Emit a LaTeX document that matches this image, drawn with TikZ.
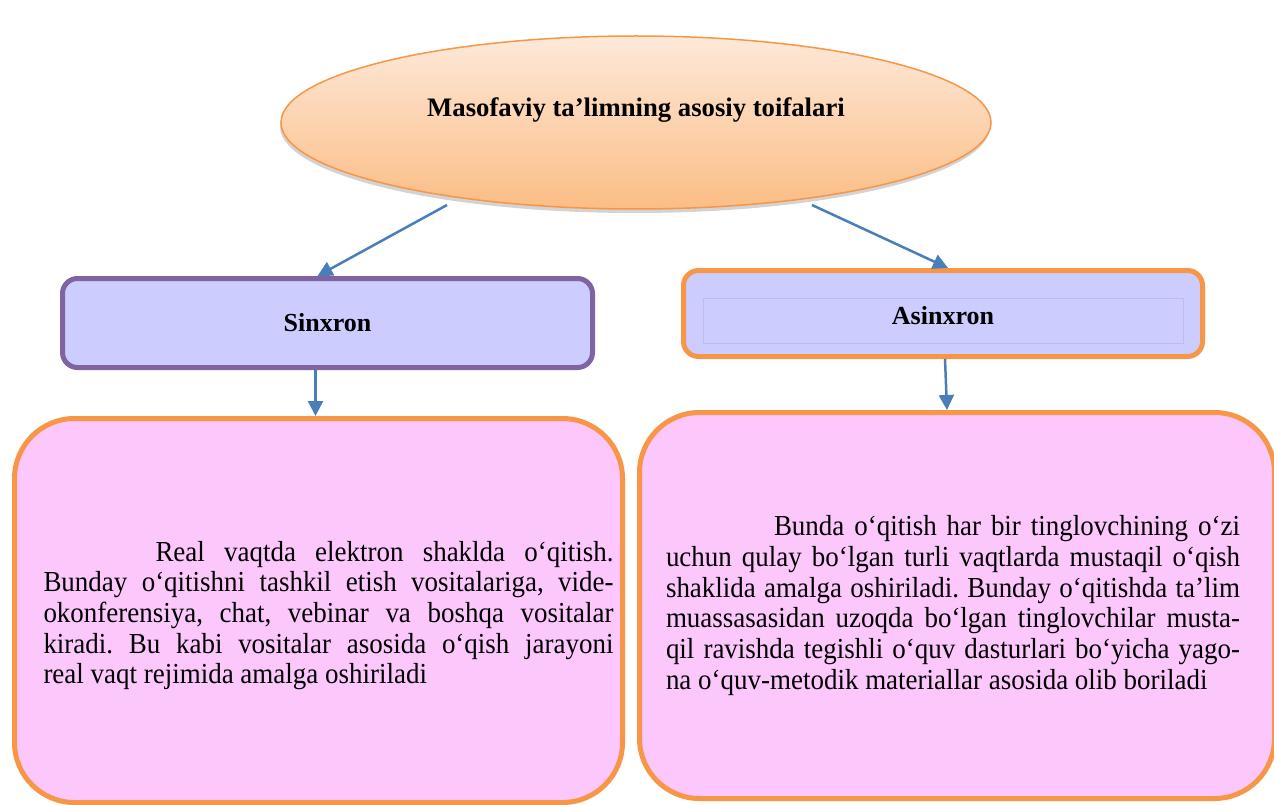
\documentclass[tikz,border=0pt]{standalone}
\usepackage{fontspec}
\setmainfont{Liberation Serif}
\newfontfamily\bodyfont{Liberation Serif}[FakeStretch=0.93]
\usepackage{tikz}
\usetikzlibrary{shapes.geometric, arrows.meta, shadows}

\definecolor{arrowblue}{HTML}{4A7EBB}
\definecolor{boxorange}{HTML}{F79646}
\definecolor{boxpurple}{HTML}{8064A2}
\definecolor{lavender}{HTML}{CCCCFF}
\definecolor{pinkfill}{HTML}{FCC8FC}
\definecolor{peachtop}{HTML}{FDE9D9}
\definecolor{peachbottom}{HTML}{FBBD85}

\tikzset{
  arr/.style={-{Triangle[length=15pt,width=15pt]}, draw=arrowblue, line width=2.5pt},
  catbox/.style={rectangle, rounded corners=15pt, fill=lavender, line width=5pt,
    minimum width=530pt, minimum height=89pt, font=\fontsize{26}{30}\selectfont\bfseries},
  textbox/.style={rectangle, rounded corners=60pt, draw=boxorange, fill=pinkfill,
    line width=5pt, inner sep=0pt,
    font=\bodyfont\fontsize{29}{30.7}\selectfont\frenchspacing},
}

\begin{document}
\begin{tikzpicture}[x=1pt, y=-1pt]
  \useasboundingbox (0,0) rectangle (1274,805);
  \clip (0,0) rectangle (1274,805);

  % main category
  \node[ellipse, draw=boxorange, line width=1.5pt, top color=peachtop, bottom color=peachbottom,
    drop shadow={shadow xshift=-1pt, shadow yshift=-4pt, opacity=0.35},
    minimum width=710pt, minimum height=173pt, inner sep=0pt,
    font=\fontsize{26.7}{30}\selectfont\bfseries] (title) at (636,122.5)
    {\raisebox{6pt}[0pt][0pt]{Masofaviy ta’limning asosiy toifalari}};

  % the two kinds
  \node[catbox, draw=boxpurple] (sinxron) at (327.5,323) {Sinxron};
  \node[catbox, draw=boxorange, minimum width=519pt, minimum height=86pt] (asinxron) at (943,313.5) {};
  \node[draw=lavender!80!gray, line width=0.6pt, minimum width=480pt, minimum height=45pt,
    font=\fontsize{26}{30}\selectfont\bfseries] (asinxronlabel) at (943,320.5)
    {\raisebox{-4pt}[0pt][0pt]{Asinxron}};

  % descriptions
  \node[textbox, minimum width=608pt, minimum height=384pt] (sinxrontext) at (318.5,610.5)
    {\hspace*{20pt}\raisebox{-5pt}[\height][\depth]{\parbox{570pt}{%
     \hspace*{112pt}Real vaqtda elektron shaklda o‘qitish.\linebreak
     Bunday o‘qitishni tashkil etish vositalariga, vide-\linebreak
     okonferensiya, chat, vebinar va boshqa vositalar\linebreak
     kiradi. Bu kabi vositalar asosida o‘qish jarayoni\linebreak
     real vaqt rejimida amalga oshiriladi}}};
  \node[textbox, minimum width=635pt, minimum height=386pt] (asinxrontext) at (957,605.5)
    {\parbox{574pt}{%
     \hspace*{108pt}Bunda o‘qitish har bir tinglovchining o‘zi\linebreak
     uchun qulay bo‘lgan turli vaqtlarda mustaqil o‘qish\linebreak
     shaklida amalga oshiriladi. Bunday o‘qitishda ta’lim\linebreak
     muassasasidan uzoqda bo‘lgan tinglovchilar musta-\linebreak
     qil ravishda tegishli o‘quv dasturlari bo‘yicha yago-\linebreak
     na o‘quv-metodik materiallar asosida olib boriladi}\hspace*{8pt}};

  % arrows
  \coordinate (fromleft) at (447,205);
  \coordinate (fromright) at (812,205);
  \draw[arr] (fromleft) -- ([xshift=-10pt]sinxron.north);
  \draw[arr] (fromright) -- ([xshift=5pt]asinxron.north);
  \draw[arr] ([xshift=-12pt]sinxron.south) -- ([xshift=-12pt]sinxron.south |- sinxrontext.north);
  \draw[arr] ([xshift=2pt]asinxron.south) -- ([xshift=-10pt]asinxrontext.north);
\end{tikzpicture}
\end{document}
